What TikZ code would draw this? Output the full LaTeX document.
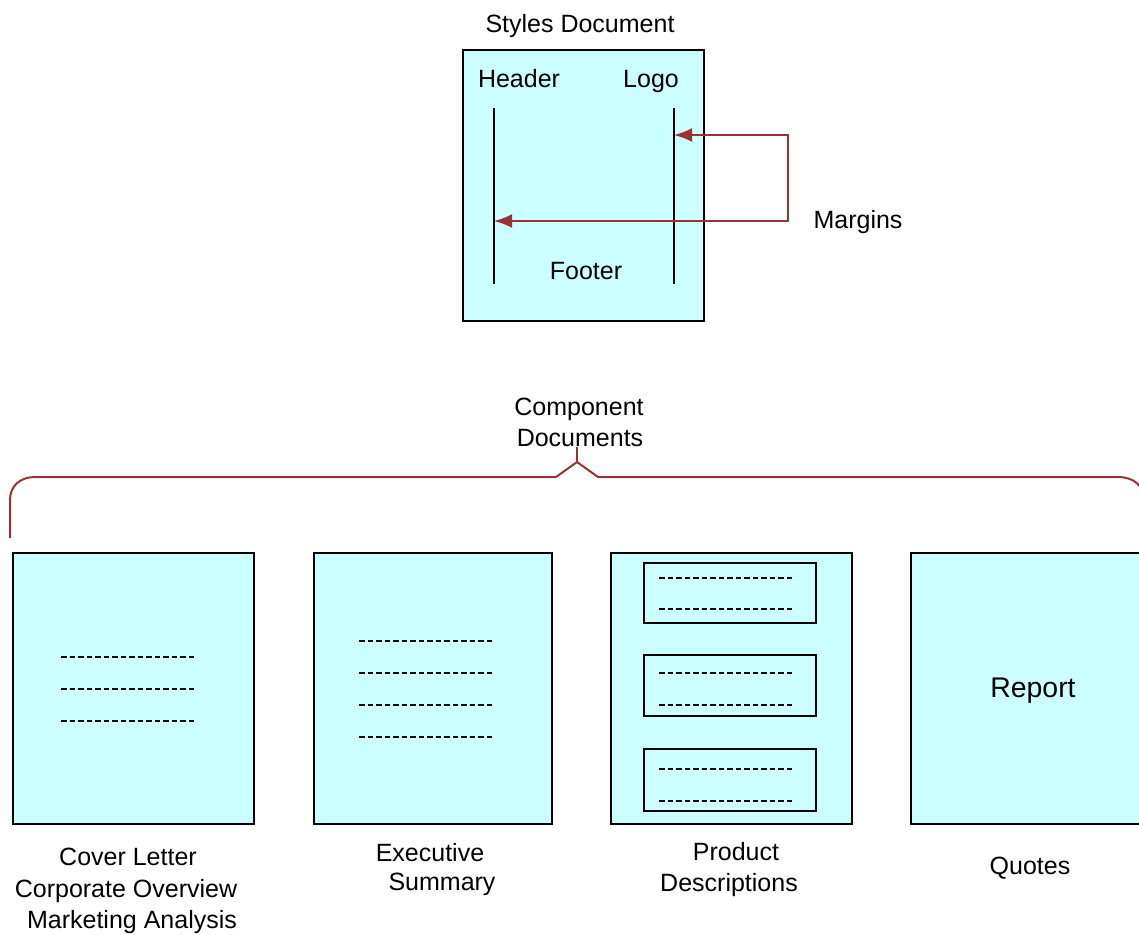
\documentclass[tikz,border=0pt]{standalone}
\usepackage{fontspec}
\setmainfont{Liberation Sans}
\usetikzlibrary{arrows.meta}
\definecolor{sheetcyan}{HTML}{CCFFFF}
\definecolor{marginred}{HTML}{993333}

\begin{document}
\begin{tikzpicture}[x=0.5pt,y=-0.5pt,
    sheet/.style={draw=black,line width=1pt,fill=sheetcyan},
    textline/.style={draw=black,line width=0.9pt,dash pattern=on 2.8pt off 1.45pt},
    marginline/.style={draw=black,line width=1pt},
    marker/.style={draw=marginred,line width=1pt},
    lbl/.style={font=\fontsize{12.5}{15}\selectfont,inner sep=0pt,anchor=base}]
        \useasboundingbox (0,0) rectangle (1139,934);

        % Styles document.
        \draw [sheet] (463,50) rectangle (704,321);
        \draw (580,32) node [lbl] (stylestitle) {Styles Document};
        \draw (519,87) node [lbl] (header) {Header};
        \draw (651,87) node [lbl] (logo) {Logo};
        \draw (586,279) node [lbl] (footer) {Footer};
        \draw (858,228) node [lbl] (margins) {Margins};
        \draw [marginline] (494,108) -- (494,284); % Left margin.
        \draw [marginline] (674,108) -- (674,284); % Right margin.
        \coordinate (margL) at (494,221);
        \coordinate (margR) at (674,135);
        \coordinate (turn) at (788,135);
        \draw [marker,{Latex[length=9pt,width=7pt]}-{Latex[length=9pt,width=7pt]}] (margR) -- (turn) |- (margL);

        % Brace over the component documents.
        \draw (579,415) node [lbl] (comptop) {Component};
        \draw (580,446) node [lbl] (compbot) {Documents};
        \draw [marker] (10,538) -- (10,500) .. controls (10,486) and (20,477) .. (35,477)
            -- (556,477) -- (577,462) -- (598,477) -- (1118,477)
            .. controls (1134,477) and (1144,486) .. (1144,500) -- (1144,538);
        \draw [marker] (577,462) -- (577,447);

        % Component documents.
        \draw [sheet] (13,553) rectangle (254,824);
        \draw [sheet] (314,553) rectangle (552,824);
        \draw [sheet] (611,553) rectangle (852,824);
        \draw [sheet] (911,553) rectangle (1153,824);

        \draw [textline] (61,657) -- (195,657);
        \draw [textline] (61,689) -- (195,689);
        \draw [textline] (61,721) -- (195,721);

        \draw [textline] (359,641) -- (493,641);
        \draw [textline] (359,673) -- (493,673);
        \draw [textline] (359,705) -- (493,705);
        \draw [textline] (359,737) -- (493,737);

        \draw [sheet] (644,563) rectangle (816,623);
        \draw [sheet] (644,655) rectangle (816,716);
        \draw [sheet] (644,749) rectangle (816,811);
        \draw [textline] (659,578) -- (794,578);
        \draw [textline] (659,609) -- (794,609);
        \draw [textline] (659,673) -- (794,673);
        \draw [textline] (659,705) -- (794,705);
        \draw [textline] (659,769) -- (794,769);
        \draw [textline] (659,801) -- (794,801);

        \draw (1033,697) node [lbl,font=\fontsize{14.2}{17}\selectfont] (report) {Report};

        % Captions.
        \draw (128,865) node [lbl] (cover) {Cover Letter};
        \draw (126,897) node [lbl] (corporate) {Corporate Overview};
        \draw (132,928) node [lbl] (marketing) {Marketing Analysis};
        \draw (430,861) node [lbl] (executive) {Executive};
        \draw (442,890) node [lbl] (summary) {Summary};
        \draw (736,860) node [lbl] (product) {Product};
        \draw (729,891) node [lbl] (descriptions) {Descriptions};
        \draw (1030,874) node [lbl] (quotes) {Quotes};
\end{tikzpicture}
\end{document}
